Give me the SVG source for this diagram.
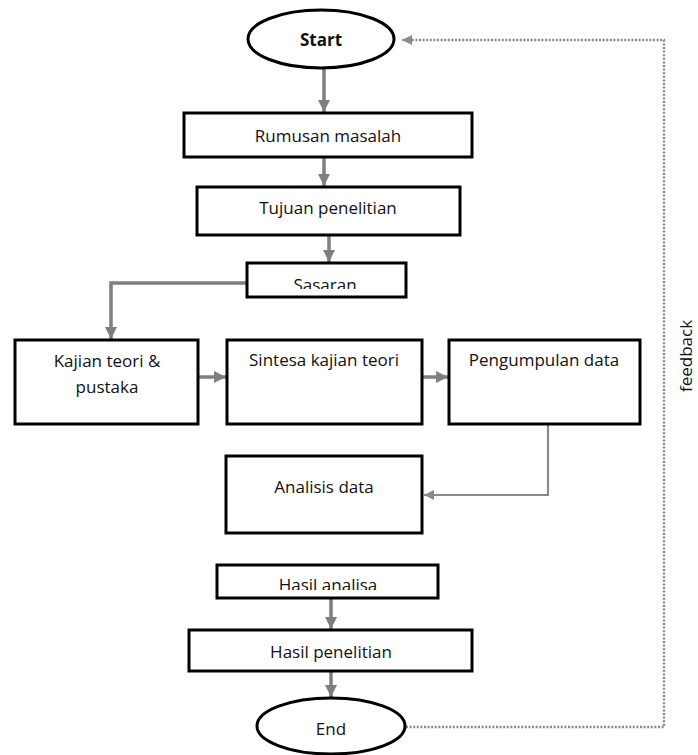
<svg xmlns="http://www.w3.org/2000/svg" width="698" height="755" viewBox="0 0 698 755">
<style>
.box{fill:#fff;stroke:#000;stroke-width:3}
.t{font-family:"Open Sans","DejaVu Sans",sans-serif;font-size:17px;fill:#111;text-anchor:middle}
.c{fill:none;stroke:#7f7f7f;stroke-width:3.5}
.thin{fill:none;stroke:#8a8a8a;stroke-width:2.2}
.dot{fill:none;stroke:#888;stroke-width:2.4;stroke-dasharray:2 1.6}
</style>
<defs>
<marker id="ah" markerUnits="userSpaceOnUse" markerWidth="14" markerHeight="14" refX="12" refY="7" orient="auto">
<path d="M0,1 L12,7 L0,13 Z" fill="#7f7f7f"/>
</marker>
<marker id="ah2" markerUnits="userSpaceOnUse" markerWidth="12" markerHeight="12" refX="10" refY="6" orient="auto">
<path d="M0,1 L10,6 L0,11 Z" fill="#8a8a8a"/>
</marker>
<clipPath id="clipS"><rect x="249" y="265" width="155" height="24"/></clipPath>
<clipPath id="clipH"><rect x="218" y="566" width="218" height="24"/></clipPath>
</defs>
<g id="connectors">
<path class="c" d="M324,68 V112" marker-end="url(#ah)"/>
<path class="c" d="M324,157 V186" marker-end="url(#ah)"/>
<path class="c" d="M329,235 V262" marker-end="url(#ah)"/>
<path class="c" d="M247,283 H111 V339" marker-end="url(#ah)"/>
<path class="c" d="M198,377 H226" marker-end="url(#ah)"/>
<path class="c" d="M422,377 H448" marker-end="url(#ah)"/>
<path class="thin" d="M548,424 V495 H424" marker-end="url(#ah2)"/>
<path class="c" d="M331,599 V629" marker-end="url(#ah)"/>
<path class="c" d="M331,671 V697" marker-end="url(#ah)"/>
<path class="dot" d="M406,727 H664 V40 H402" marker-end="url(#ah2)"/>
</g>
<g id="start"><ellipse class="box" cx="321" cy="39" rx="73" ry="29"/><text class="t" x="321" y="46" font-weight="bold">Start</text></g>
<g id="rumusan"><rect class="box" x="184" y="113" width="288" height="44"/><text class="t" x="328" y="142">Rumusan masalah</text></g>
<g id="tujuan"><rect class="box" x="197" y="187" width="263" height="48"/><text class="t" x="328" y="214">Tujuan penelitian</text></g>
<g id="sasaran"><rect class="box" x="247" y="263" width="159" height="34"/><text class="t" x="325" y="291" clip-path="url(#clipS)">Sasaran</text></g>
<g id="kajian"><rect class="box" x="15" y="340" width="183" height="84"/><text class="t" x="107" y="367">Kajian teori &amp;</text><text class="t" x="107" y="393">pustaka</text></g>
<g id="sintesa"><rect class="box" x="227" y="340" width="195" height="84"/><text class="t" x="324" y="366">Sintesa kajian teori</text></g>
<g id="pengumpulan"><rect class="box" x="449" y="340" width="191" height="84"/><text class="t" x="544" y="366">Pengumpulan data</text></g>
<g id="analisis"><rect class="box" x="226" y="456" width="196" height="77"/><text class="t" x="324" y="493">Analisis data</text></g>
<g id="hasil-analisa"><rect class="box" x="217" y="565" width="221" height="33"/><text class="t" x="328" y="591" clip-path="url(#clipH)">Hasil analisa</text></g>
<g id="hasil-penelitian"><rect class="box" x="189" y="630" width="283" height="41"/><text class="t" x="331" y="658">Hasil penelitian</text></g>
<g id="end"><ellipse class="box" cx="331" cy="726" rx="74" ry="28"/><text class="t" x="331" y="735">End</text></g>
<text class="t" x="0" y="0" transform="translate(692,356) rotate(-90)">feedback</text>
</svg>
